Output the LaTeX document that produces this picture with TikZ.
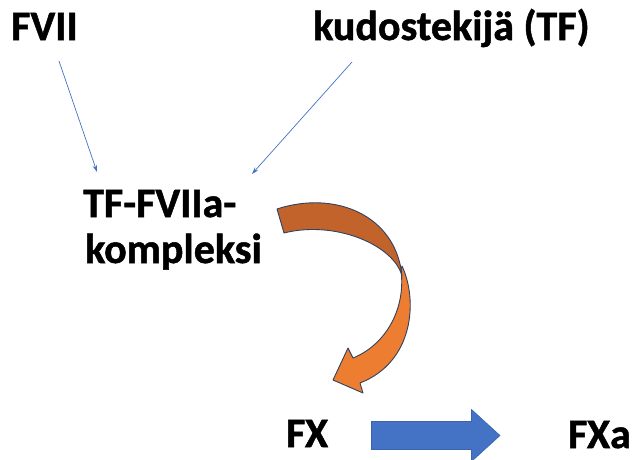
\documentclass[tikz,border=0pt]{standalone}
\usepackage{fontspec}
\setmainfont{Carlito}[BoldFeatures={FakeBold=1.2}]
\usetikzlibrary{arrows.meta}
\definecolor{thinblue}{HTML}{4472C4}
\definecolor{blockblue}{HTML}{4472C4}
\definecolor{blockedge}{HTML}{3A64B0}
\definecolor{rustback}{HTML}{C2632B}
\definecolor{orangefront}{HTML}{ED7D31}
\definecolor{arrowedge}{HTML}{2F4262}
\tikzset{
  lbl/.style={font=\fontsize{42}{46}\selectfont\bfseries, anchor=base west, inner sep=0pt, text=black},
  thinarrow/.style={draw=thinblue, line width=0.7pt, -{Stealth[length=7pt,width=4.5pt]}},
  bandpart/.style={draw=arrowedge, line width=0.9pt, line join=round},
}
\begin{document}
\begin{tikzpicture}[x=1pt,y=-1pt]
\useasboundingbox (0,0) rectangle (632,459);

% labels
\node[lbl] (fvii) at (11,40) {FVII};
\node[lbl] (tf) at (313,40) {kudostekijä (TF)};
\node[lbl] (cplx1) at (83,217) {TF-FVIIa-};
\node[lbl] (cplx2) at (85,263) {kompleksi};
\node[lbl] (fx) at (286,447) {FX};
\node[lbl] (fxa) at (568,448) {FXa};

% ends of the two thin arrows
\coordinate (fvii-out) at (59,61);
\coordinate (cplx-in1) at (97,172);
\coordinate (tf-out) at (352,62);
\coordinate (cplx-in2) at (252,174);
\draw[thinarrow] (fvii-out) -- (cplx-in1);
\draw[thinarrow] (tf-out) -- (cplx-in2);

% curved arrow: lower (front) part with head
\filldraw[bandpart, fill=orangefront]
  (402,266) .. controls (418,300) and (414,362) .. (360,383)
  -- (363,393) -- (333,380) -- (348,348) -- (353,358)
  .. controls (385,345) and (406,310) .. (401,270) -- cycle;
% curved arrow: upper (back) part
\filldraw[bandpart, fill=rustback]
  (277,209) .. controls (335,190) and (396,215) .. (402,276)
  .. controls (394,245) and (335,220) .. (284,233) -- cycle;

% block arrow FX -> FXa
\filldraw[draw=blockedge, line width=0.6pt, fill=blockblue]
  (371.5,421.5) -- (471.5,421.5) -- (471.5,409.5) -- (500,435.5)
  -- (471.5,461.5) -- (471.5,449.5) -- (371.5,449.5) -- cycle;
\end{tikzpicture}
\end{document}
